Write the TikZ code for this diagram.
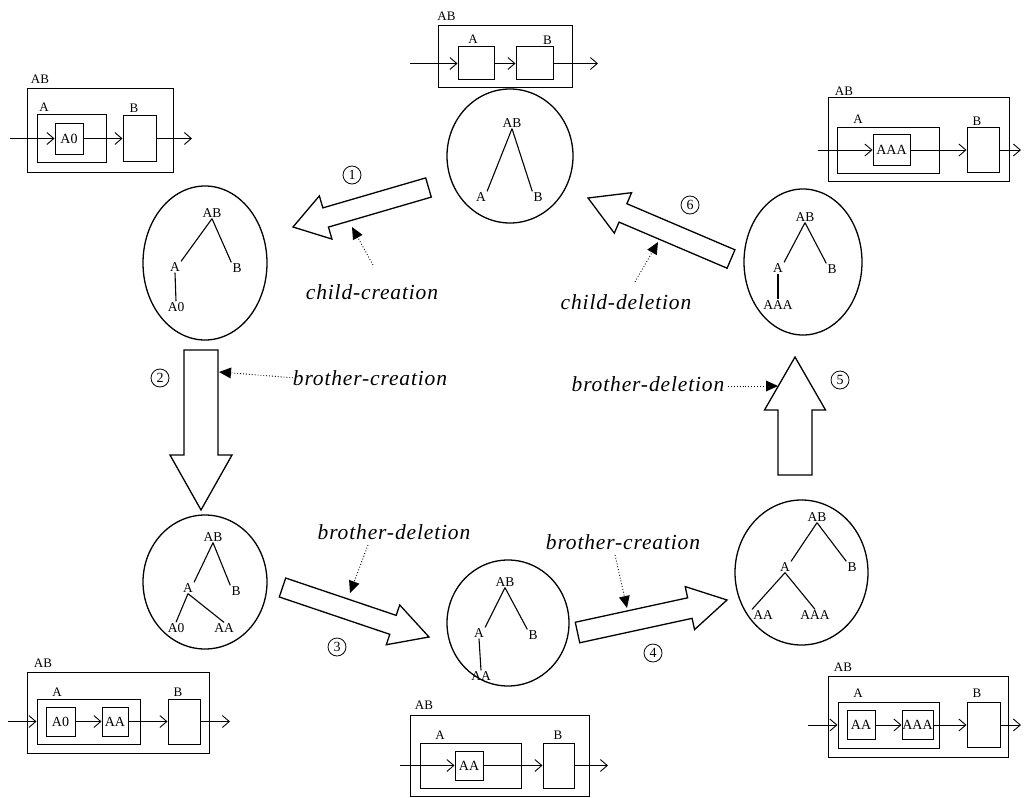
\documentclass[tikz,border=0pt]{standalone}
\usepackage{fontspec}
\setmainfont{Liberation Serif}
\newfontfamily\opfont{Liberation Serif}[LetterSpace=4.0]
\usetikzlibrary{shapes.geometric,arrows.meta,calc}

% block arrow: tail, tip, shaft width, head width, head length (all in px)
\newcommand\blockarrow[5]{%
  \path let \p1=(#1), \p2=(#2) in \pgfextra{%
    \pgfmathsetmacro\baang{atan2(\y2-\y1,\x2-\x1)}%
    \pgfmathsetmacro\balen{veclen(\x2-\x1,\y2-\y1)}%
    \global\let\gbaang\baang \global\let\gbalen\balen};
  \begin{scope}[shift={(#1)},rotate=\gbaang]
    \pgfmathsetmacro\bas{#3/2}\pgfmathsetmacro\bah{#4/2}\pgfmathsetmacro\bab{\gbalen-#5}
    \draw[block] (0pt,-\bas pt) -- (\bab pt,-\bas pt) -- (\bab pt,-\bah pt) -- (\gbalen pt,0pt)
      -- (\bab pt,\bah pt) -- (\bab pt,\bas pt) -- (0pt,\bas pt) -- cycle;
  \end{scope}}

\begin{document}
\begin{tikzpicture}[x=1pt,y=-1pt,
  oval/.style={ellipse,draw,line width=1.3pt,inner sep=0pt},
  tlabel/.style={font=\fontsize{13.5}{14}\selectfont,inner sep=1pt},
  tedge/.style={line width=1.1pt},
  box/.style={draw,line width=1pt,inner sep=0pt,font=\fontsize{14}{14}\selectfont},
  blabel/.style={font=\fontsize{13}{13}\selectfont,inner sep=0pt},
  flow/.style={line width=0.9pt,-{Straight Barb[length=7pt,width=12pt]}},
  block/.style={line width=1.3pt,line join=miter},
  op/.style={font=\opfont\fontsize{21.5}{22}\selectfont\itshape,inner sep=1pt},
  pointer/.style={line width=0.9pt,dotted,-{Triangle[length=12pt,width=11pt,line width=0pt]}},
  num/.style={circle,draw,line width=0.8pt,minimum size=18pt,inner sep=0pt,font=\fontsize{14}{14}\selectfont}
]
\useasboundingbox (0,0) rectangle (1024,797);

% ---------------- hierarchy trees ----------------
% initial state
\node[oval,minimum width=126pt,minimum height=134pt] (e0) at (510,156) {};
\node[tlabel] (e0ab) at (512,123) {AB};
\node[tlabel] (e0a) at (481,197) {A};
\node[tlabel] (e0b) at (538,197) {B};
\draw[tedge] (e0ab.south) -- (e0a.north east);
\draw[tedge] (e0ab.south) -- (e0b.north west);

% after child creation
\node[oval,minimum width=124pt,minimum height=154pt] (e1) at (205,263) {};
\node[tlabel] (e1ab) at (212,213) {AB};
\node[tlabel] (e1a) at (175,267) {A};
\node[tlabel] (e1b) at (237,268) {B};
\node[tlabel] (e1a0) at (176,307) {A0};
\draw[tedge] (e1ab.south) -- (e1a.north east);
\draw[tedge] (e1ab.south) -- (e1b.north west);
\draw[tedge] (e1a.south) -- (e1a0.north);

% after brother creation
\node[oval,minimum width=124pt,minimum height=134pt] (e2) at (205,582) {};
\node[tlabel] (e2ab) at (213,537) {AB};
\node[tlabel] (e2a) at (188,588) {A};
\node[tlabel] (e2b) at (236,591) {B};
\node[tlabel] (e2a0) at (176,628) {A0};
\node[tlabel] (e2aa) at (224,628) {AA};
\draw[tedge] (e2ab.south) -- (e2a.north east);
\draw[tedge] (e2ab.south) -- (e2b.north west);
\draw[tedge] (e2a.south) -- (e2a0.north);
\draw[tedge] (e2a.south) -- (e2aa.north);

% after brother deletion
\node[oval,minimum width=122pt,minimum height=126pt] (e3) at (508,623) {};
\node[tlabel] (e3ab) at (505,582) {AB};
\node[tlabel] (e3a) at (479,633) {A};
\node[tlabel] (e3b) at (533,635) {B};
\node[tlabel] (e3aa) at (481,676) {AA};
\draw[tedge] (e3ab.south) -- (e3a.north east);
\draw[tedge] (e3ab.south) -- (e3b.north west);
\draw[tedge] (e3a.south) -- (e3aa.north);

% after second brother creation
\node[oval,minimum width=133pt,minimum height=145pt] (e4) at (801.5,572.5) {};
\node[tlabel] (e4ab) at (817,517) {AB};
\node[tlabel] (e4a) at (785,567) {A};
\node[tlabel] (e4b) at (852,567) {B};
\node[tlabel] (e4aa) at (763,615) {AA};
\node[tlabel] (e4aaa) at (815,615) {AAA};
\draw[tedge] (e4ab.south) -- (e4a.north east);
\draw[tedge] (e4ab.south) -- (e4b.north west);
\draw[tedge] (e4a.south) -- (e4aa.north west);
\draw[tedge] (e4a.south) -- (e4aaa.north);

% after brother deletion
\node[oval,minimum width=118pt,minimum height=146pt] (e5) at (803,262) {};
\node[tlabel] (e5ab) at (805,217) {AB};
\node[tlabel] (e5a) at (778,268) {A};
\node[tlabel] (e5b) at (832,269) {B};
\node[tlabel] (e5aaa) at (778,305) {AAA};
\draw[tedge] (e5ab.south) -- (e5a.north east);
\draw[tedge] (e5ab.south) -- (e5b.north west);
\draw[tedge] (e5a.south) -- (e5aaa.north);

% ---------------- transformation arrows ----------------
\coordinate (a1t) at (428.5,187.5); \coordinate (a1h) at (293,227);
\coordinate (a2t) at (201,350);     \coordinate (a2h) at (201,510);
\coordinate (a3t) at (282.5,587.5); \coordinate (a3h) at (429,637);
\coordinate (a4t) at (577.5,632.5); \coordinate (a4h) at (727,600);
\coordinate (a5t) at (795,475);     \coordinate (a5h) at (795,357);
\coordinate (a6t) at (731,259);     \coordinate (a6h) at (588,198);
\blockarrow{a1t}{a1h}{20}{45}{34}
\blockarrow{a2t}{a2h}{34}{62}{55}
\blockarrow{a3t}{a3h}{20}{42}{38}
\blockarrow{a4t}{a4h}{21}{44}{38}
\blockarrow{a5t}{a5h}{34}{61}{53}
\blockarrow{a6t}{a6h}{20}{44}{38}

\node[num] (n1) at (352,175) {1};
\node[num] (n2) at (160,378) {2};
\node[num] (n3) at (337,647) {3};
\node[num] (n4) at (653,653) {4};
\node[num] (n5) at (840,380) {5};
\node[num] (n6) at (690,205) {6};

% operation names with dotted pointers
\node[op] (o1) at (372,292) {child-creation};
\node[op] (o2) at (370,378) {brother-creation};
\node[op] (o3) at (394,532) {brother-deletion};
\node[op] (o4) at (623,542) {brother-creation};
\node[op] (o5) at (648,384) {brother-deletion};
\node[op] (o6) at (626,302) {child-deletion};
\coordinate (p1s) at (373,265); \coordinate (p1e) at (352,227);
\coordinate (p2s) at (296,378); \coordinate (p2e) at (219,372);
\coordinate (p3s) at (368,545); \coordinate (p3e) at (350,593);
\coordinate (p4s) at (615,555); \coordinate (p4e) at (627,608);
\coordinate (p5s) at (728,386); \coordinate (p5e) at (778,386);
\coordinate (p6s) at (635,282); \coordinate (p6e) at (658,242);
\draw[pointer] (p1s) -- (p1e);
\draw[pointer] (p2s) -- (p2e);
\draw[pointer] (p3s) -- (p3e);
\draw[pointer] (p4s) -- (p4e);
\draw[pointer] (p5s) -- (p5e);
\draw[pointer] (p6s) -- (p6e);

% ---------------- block diagrams ----------------
% initial
\node[box,minimum width=134pt,minimum height=62pt] (tcAB) at (505,57) {};
\node[box,minimum width=36pt,minimum height=33pt] (tcA) at (476,63.5) {};
\node[box,minimum width=37pt,minimum height=33pt] (tcB) at (534.5,63.5) {};
\node[blabel] (tcABl) at (446.5,16) {AB};
\node[blabel] (tcAl) at (473,39) {A};
\node[blabel] (tcBl) at (547.5,40) {B};
\coordinate (tcin) at (410,63.5); \coordinate (tcout) at (598,63.5);
\draw[flow] (tcin) -- (tcA.west);
\draw[flow] (tcA.east) -- (tcB.west);
\draw[flow] (tcB.east) -- (tcout);

% child created
\node[box,minimum width=146pt,minimum height=83pt] (tlAB) at (100,130.5) {};
\node[box,minimum width=69pt,minimum height=47pt] (tlA) at (71.5,138.5) {};
\node[box,minimum width=28pt,minimum height=31pt] (tlA0) at (69,138.5) {A0};
\node[box,minimum width=33pt,minimum height=46pt] (tlB) at (139.5,138.5) {};
\node[blabel] (tlABl) at (40,79) {AB};
\node[blabel] (tlAl) at (44,107) {A};
\node[blabel] (tlBl) at (134,108) {B};
\coordinate (tlin) at (10,138.5); \coordinate (tlout) at (192,138.5);
\draw[flow] (tlin) -- (tlA0.west);
\draw[flow] (tlA0.east) -- (tlB.west);
\draw[flow] (tlB.east) -- (tlout);

% brother created
\node[box,minimum width=182pt,minimum height=81pt] (blAB) at (118,712.5) {};
\node[box,minimum width=103pt,minimum height=45pt] (blA) at (88.5,721.5) {};
\node[box,minimum width=29pt,minimum height=29pt] (blA0) at (60.5,721.5) {A0};
\node[box,minimum width=26pt,minimum height=29pt] (blAA) at (115,721.5) {AA};
\node[box,minimum width=32pt,minimum height=45pt] (blB) at (184,721.5) {};
\node[blabel] (blABl) at (43,663) {AB};
\node[blabel] (blAl) at (57,692) {A};
\node[blabel] (blBl) at (178,692) {B};
\coordinate (blin) at (8,721.5); \coordinate (blout) at (230,721.5);
\draw[flow] (blin) -- (blA.west);
\draw[flow] (blA0.east) -- (blAA.west);
\draw[flow] (blAA.east) -- (blB.west);
\draw[flow] (blB.east) -- (blout);

% brother deleted
\node[box,minimum width=179pt,minimum height=81pt] (bcAB) at (499.5,755.5) {};
\node[box,minimum width=101pt,minimum height=45pt] (bcA) at (470.5,765.5) {};
\node[box,minimum width=28pt,minimum height=29pt] (bcAA) at (469,765.5) {AA};
\node[box,minimum width=31pt,minimum height=45pt] (bcB) at (558.5,765.5) {};
\node[blabel] (bcABl) at (424,705) {AB};
\node[blabel] (bcAl) at (440,735) {A};
\node[blabel] (bcBl) at (558,735) {B};
\coordinate (bcin) at (400,765.5); \coordinate (bcout) at (608,765.5);
\draw[flow] (bcin) -- (bcAA.west);
\draw[flow] (bcAA.east) -- (bcB.west);
\draw[flow] (bcB.east) -- (bcout);

% second brother created
\node[box,minimum width=180pt,minimum height=81pt] (brAB) at (918,716.5) {};
\node[box,minimum width=101pt,minimum height=46pt] (brA) at (888.5,725) {};
\node[box,minimum width=28pt,minimum height=29pt] (brAA) at (861,725) {AA};
\node[box,minimum width=31pt,minimum height=29pt] (brAAA) at (917.5,725) {AAA};
\node[box,minimum width=33pt,minimum height=45pt] (brB) at (983.5,725) {};
\node[blabel] (brABl) at (843,667) {AB};
\node[blabel] (brAl) at (858,693) {A};
\node[blabel] (brBl) at (977,693) {B};
\coordinate (brin) at (808,725); \coordinate (brout) at (1021,725);
\draw[flow] (brin) -- (brA.west);
\draw[flow] (brAA.east) -- (brAAA.west);
\draw[flow] (brAAA.east) -- (brB.west);
\draw[flow] (brB.east) -- (brout);

% brother deleted again
\node[box,minimum width=181pt,minimum height=83pt] (trAB) at (918.5,139.5) {};
\node[box,minimum width=102pt,minimum height=46pt] (trA) at (888,150) {};
\node[box,minimum width=37pt,minimum height=31pt] (trAAA) at (891.5,150) {AAA};
\node[box,minimum width=32pt,minimum height=45pt] (trB) at (983,150) {};
\node[blabel] (trABl) at (844,91) {AB};
\node[blabel] (trAl) at (858,119) {A};
\node[blabel] (trBl) at (977,121) {B};
\coordinate (trin) at (818,150); \coordinate (trout) at (1021,150);
\draw[flow] (trin) -- (trAAA.west);
\draw[flow] (trAAA.east) -- (trB.west);
\draw[flow] (trB.east) -- (trout);
\end{tikzpicture}
\end{document}
